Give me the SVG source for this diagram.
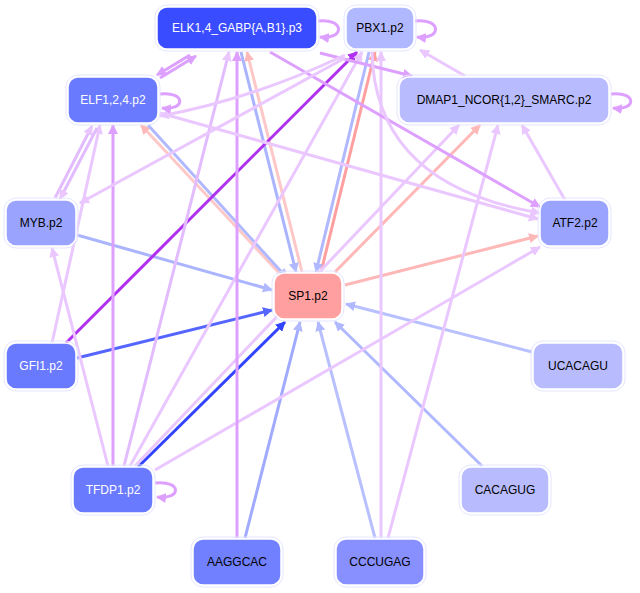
<svg xmlns="http://www.w3.org/2000/svg" width="640" height="593" viewBox="0 0 640 593">
<style>
.n rect{stroke:#ffffff;stroke-width:1.5}
.n .o{fill:none;stroke:#e4e6ff;stroke-width:1}
text{font-family:"Liberation Sans",Arial,sans-serif;font-size:12px;text-anchor:middle;dominant-baseline:central}
.w{fill:#fff}.k{fill:#000}
.e path,.e line{fill:none;stroke-width:3}
</style>
<defs>
<marker id="mLP" viewBox="0 0 10 10" refX="9" refY="5" markerWidth="10" markerHeight="10" markerUnits="userSpaceOnUse" orient="auto"><path d="M0,0L10,5L0,10z" fill="#eac8ff"/></marker>
<marker id="mMP" viewBox="0 0 10 10" refX="9" refY="5" markerWidth="10" markerHeight="10" markerUnits="userSpaceOnUse" orient="auto"><path d="M0,0L10,5L0,10z" fill="#dda0ff"/></marker>
<marker id="mSP" viewBox="0 0 10 10" refX="9" refY="5" markerWidth="10" markerHeight="10" markerUnits="userSpaceOnUse" orient="auto"><path d="M0,0L10,5L0,10z" fill="#b030f0"/></marker>
<marker id="mLB" viewBox="0 0 10 10" refX="9" refY="5" markerWidth="10" markerHeight="10" markerUnits="userSpaceOnUse" orient="auto"><path d="M0,0L10,5L0,10z" fill="#b0b8ff"/></marker>
<marker id="mMB" viewBox="0 0 10 10" refX="9" refY="5" markerWidth="10" markerHeight="10" markerUnits="userSpaceOnUse" orient="auto"><path d="M0,0L10,5L0,10z" fill="#5566ff"/></marker>
<marker id="mDB" viewBox="0 0 10 10" refX="9" refY="5" markerWidth="10" markerHeight="10" markerUnits="userSpaceOnUse" orient="auto"><path d="M0,0L10,5L0,10z" fill="#3344ff"/></marker>
<marker id="mPK" viewBox="0 0 10 10" refX="9" refY="5" markerWidth="10" markerHeight="10" markerUnits="userSpaceOnUse" orient="auto"><path d="M0,0L10,5L0,10z" fill="#ffb8b8"/></marker>
<marker id="mSK" viewBox="0 0 10 10" refX="9" refY="5" markerWidth="10" markerHeight="10" markerUnits="userSpaceOnUse" orient="auto"><path d="M0,0L10,5L0,10z" fill="#ff9f9f"/></marker>
</defs>
<rect width="640" height="593" fill="#fff"/>
<g class="e" id="edges">
<line x1="77" y1="235" x2="272" y2="290" stroke="#aab4ff" marker-end="url(#mLB)"/>
<line x1="77" y1="358" x2="272" y2="310" stroke="#5566ff" marker-end="url(#mMB)"/>
<line x1="138" y1="467" x2="285" y2="322" stroke="#3344ff" marker-end="url(#mDB)"/>
<line x1="245" y1="538" x2="300" y2="322" stroke="#a0aaff" marker-end="url(#mLB)"/>
<line x1="375" y1="538" x2="318" y2="322" stroke="#b8c0ff" marker-end="url(#mLB)"/>
<line x1="482" y1="466" x2="335" y2="322" stroke="#b0b8ff" marker-end="url(#mLB)"/>
<line x1="532" y1="352" x2="346" y2="304" stroke="#b8c0ff" marker-end="url(#mLB)"/>
<line x1="345" y1="285" x2="538" y2="236" stroke="#ffb8b8" marker-end="url(#mPK)"/>
<line x1="335" y1="272" x2="480" y2="125" stroke="#ffb8b8" marker-end="url(#mPK)"/>
<line x1="321" y1="272" x2="375" y2="52" stroke="#ff9f9f" marker-end="url(#mSK)"/>
<line x1="369" y1="52" x2="316" y2="272" stroke="#b0b8ff" marker-end="url(#mLB)"/>
<line x1="302" y1="272" x2="247" y2="52" stroke="#ffc8c8" marker-end="url(#mPK)"/>
<line x1="241" y1="52" x2="296" y2="272" stroke="#aab4ff" marker-end="url(#mLB)"/>
<line x1="282" y1="276" x2="141" y2="125" stroke="#ffc8c8" marker-end="url(#mPK)"/>
<line x1="148" y1="125" x2="287" y2="278" stroke="#b0b8ff" marker-end="url(#mLB)"/>
<line x1="66" y1="343" x2="357" y2="52" stroke="#b030f0" marker-end="url(#mSP)"/>
<line x1="113" y1="466" x2="113" y2="125" stroke="#dda0ff" marker-end="url(#mMP)"/>
<line x1="124" y1="466" x2="229" y2="52" stroke="#e2bcff" marker-end="url(#mLP)"/>
<line x1="130" y1="466" x2="362" y2="52" stroke="#eac8ff" marker-end="url(#mLP)"/>
<line x1="135" y1="466" x2="459" y2="125" stroke="#eac8ff" marker-end="url(#mLP)"/>
<line x1="108" y1="466" x2="52" y2="248" stroke="#eac8ff" marker-end="url(#mLP)"/>
<line x1="155" y1="470" x2="540" y2="247" stroke="#eac8ff" marker-end="url(#mLP)"/>
<line x1="237" y1="538" x2="237" y2="52" stroke="#dda0ff" marker-end="url(#mMP)"/>
<line x1="381" y1="538" x2="381" y2="52" stroke="#eac8ff" marker-end="url(#mLP)"/>
<line x1="388" y1="538" x2="498" y2="125" stroke="#eac8ff" marker-end="url(#mLP)"/>
<line x1="52" y1="343" x2="100" y2="125" stroke="#eac8ff" marker-end="url(#mLP)"/>
<line x1="55" y1="198" x2="92" y2="126" stroke="#e2bcff" marker-end="url(#mLP)"/>
<line x1="97" y1="128" x2="60" y2="199" stroke="#e2bcff" marker-end="url(#mLP)"/>
<line x1="190" y1="55" x2="157" y2="75" stroke="#dda0ff" marker-end="url(#mMP)"/>
<line x1="160" y1="78" x2="196" y2="56" stroke="#dda0ff" marker-end="url(#mMP)"/>
<line x1="320" y1="53" x2="412" y2="76" stroke="#dda0ff" marker-end="url(#mMP)"/>
<line x1="270" y1="52" x2="540" y2="207" stroke="#dda0ff" marker-end="url(#mMP)"/>
<path d="M345,55 Q250,100 160,116" stroke="#eac8ff" marker-end="url(#mLP)"/>
<line x1="345" y1="58" x2="80" y2="203" stroke="#eac8ff" marker-end="url(#mLP)"/>
<path d="M372,52 Q375,185 540,213" stroke="#eac8ff" marker-end="url(#mLP)"/>
<line x1="465" y1="76" x2="420" y2="50" stroke="#eac8ff" marker-end="url(#mLP)"/>
<line x1="565" y1="200" x2="522" y2="125" stroke="#eac8ff" marker-end="url(#mLP)"/>
<line x1="160" y1="113" x2="538" y2="219" stroke="#eac8ff" marker-end="url(#mLP)"/>
<path d="M318,21 C345,18 345,40 320,37" stroke="#dda0ff" marker-end="url(#mMP)"/>
<path d="M415,21 C442,18 442,40 417,37" stroke="#dda0ff" marker-end="url(#mMP)"/>
<path d="M160,94 C186,91 186,111 162,108" stroke="#dda0ff" marker-end="url(#mMP)"/>
<path d="M611,94 C637,91 637,111 613,108" stroke="#dda0ff" marker-end="url(#mMP)"/>
<path d="M155,483 C182,480 182,500 157,497" stroke="#dda0ff" marker-end="url(#mMP)"/>
</g>
<g id="n-elk" class="n"><rect class="o" x="155" y="5" width="164" height="46" rx="12"/><rect x="157" y="7" width="160" height="42" rx="10" fill="#3a4cff"/><text x="237" y="28" class="w">ELK1,4_GABP{A,B1}.p3</text></g>
<g id="n-pbx1" class="n"><rect class="o" x="344" y="5" width="72" height="46" rx="12"/><rect x="346" y="7" width="68" height="42" rx="10" fill="#b0b8ff"/><text x="380" y="28" class="k">PBX1.p2</text></g>
<g id="n-elf" class="n"><rect class="o" x="66" y="75" width="94" height="50" rx="12"/><rect x="68" y="77" width="90" height="46" rx="10" fill="#6a7aff"/><text x="113" y="100" class="w">ELF1,2,4.p2</text></g>
<g id="n-dmap1" class="n"><rect class="o" x="397" y="75" width="214" height="50" rx="12"/><rect x="399" y="77" width="210" height="46" rx="10" fill="#b8bcff"/><text x="504" y="100" class="k">DMAP1_NCOR{1,2}_SMARC.p2</text></g>
<g id="n-myb" class="n"><rect class="o" x="4" y="198" width="74" height="50" rx="12"/><rect x="6" y="200" width="70" height="46" rx="10" fill="#9aa4ff"/><text x="41" y="223" class="k">MYB.p2</text></g>
<g id="n-atf2" class="n"><rect class="o" x="538" y="198" width="73" height="50" rx="12"/><rect x="540" y="200" width="69" height="46" rx="10" fill="#9aa4ff"/><text x="575" y="223" class="k">ATF2.p2</text></g>
<g id="n-sp1" class="n"><rect class="o" x="272" y="271" width="72" height="50" rx="12"/><rect x="274" y="273" width="68" height="46" rx="10" fill="#ff9f9f"/><text x="308" y="296" class="k">SP1.p2</text></g>
<g id="n-gfi1" class="n"><rect class="o" x="4" y="341" width="74" height="50" rx="12"/><rect x="6" y="343" width="70" height="46" rx="10" fill="#6a7aff"/><text x="41" y="366" class="w">GFI1.p2</text></g>
<g id="n-ucacagu" class="n"><rect class="o" x="531" y="341" width="94" height="50" rx="12"/><rect x="533" y="343" width="90" height="46" rx="10" fill="#b8bcff"/><text x="578" y="366" class="k">UCACAGU</text></g>
<g id="n-tfdp1" class="n"><rect class="o" x="71" y="465" width="84" height="50" rx="12"/><rect x="73" y="467" width="80" height="46" rx="10" fill="#6a7aff"/><text x="113" y="490" class="w">TFDP1.p2</text></g>
<g id="n-cacagug" class="n"><rect class="o" x="459" y="465" width="92" height="50" rx="12"/><rect x="461" y="467" width="88" height="46" rx="10" fill="#b8bcff"/><text x="505" y="490" class="k">CACAGUG</text></g>
<g id="n-aaggcac" class="n"><rect class="o" x="191" y="537" width="92" height="50" rx="12"/><rect x="193" y="539" width="88" height="46" rx="10" fill="#7080ff"/><text x="237" y="562" class="k">AAGGCAC</text></g>
<g id="n-cccugag" class="n"><rect class="o" x="334" y="537" width="92" height="50" rx="12"/><rect x="336" y="539" width="88" height="46" rx="10" fill="#8890ff"/><text x="380" y="562" class="k">CCCUGAG</text></g>
</svg>
